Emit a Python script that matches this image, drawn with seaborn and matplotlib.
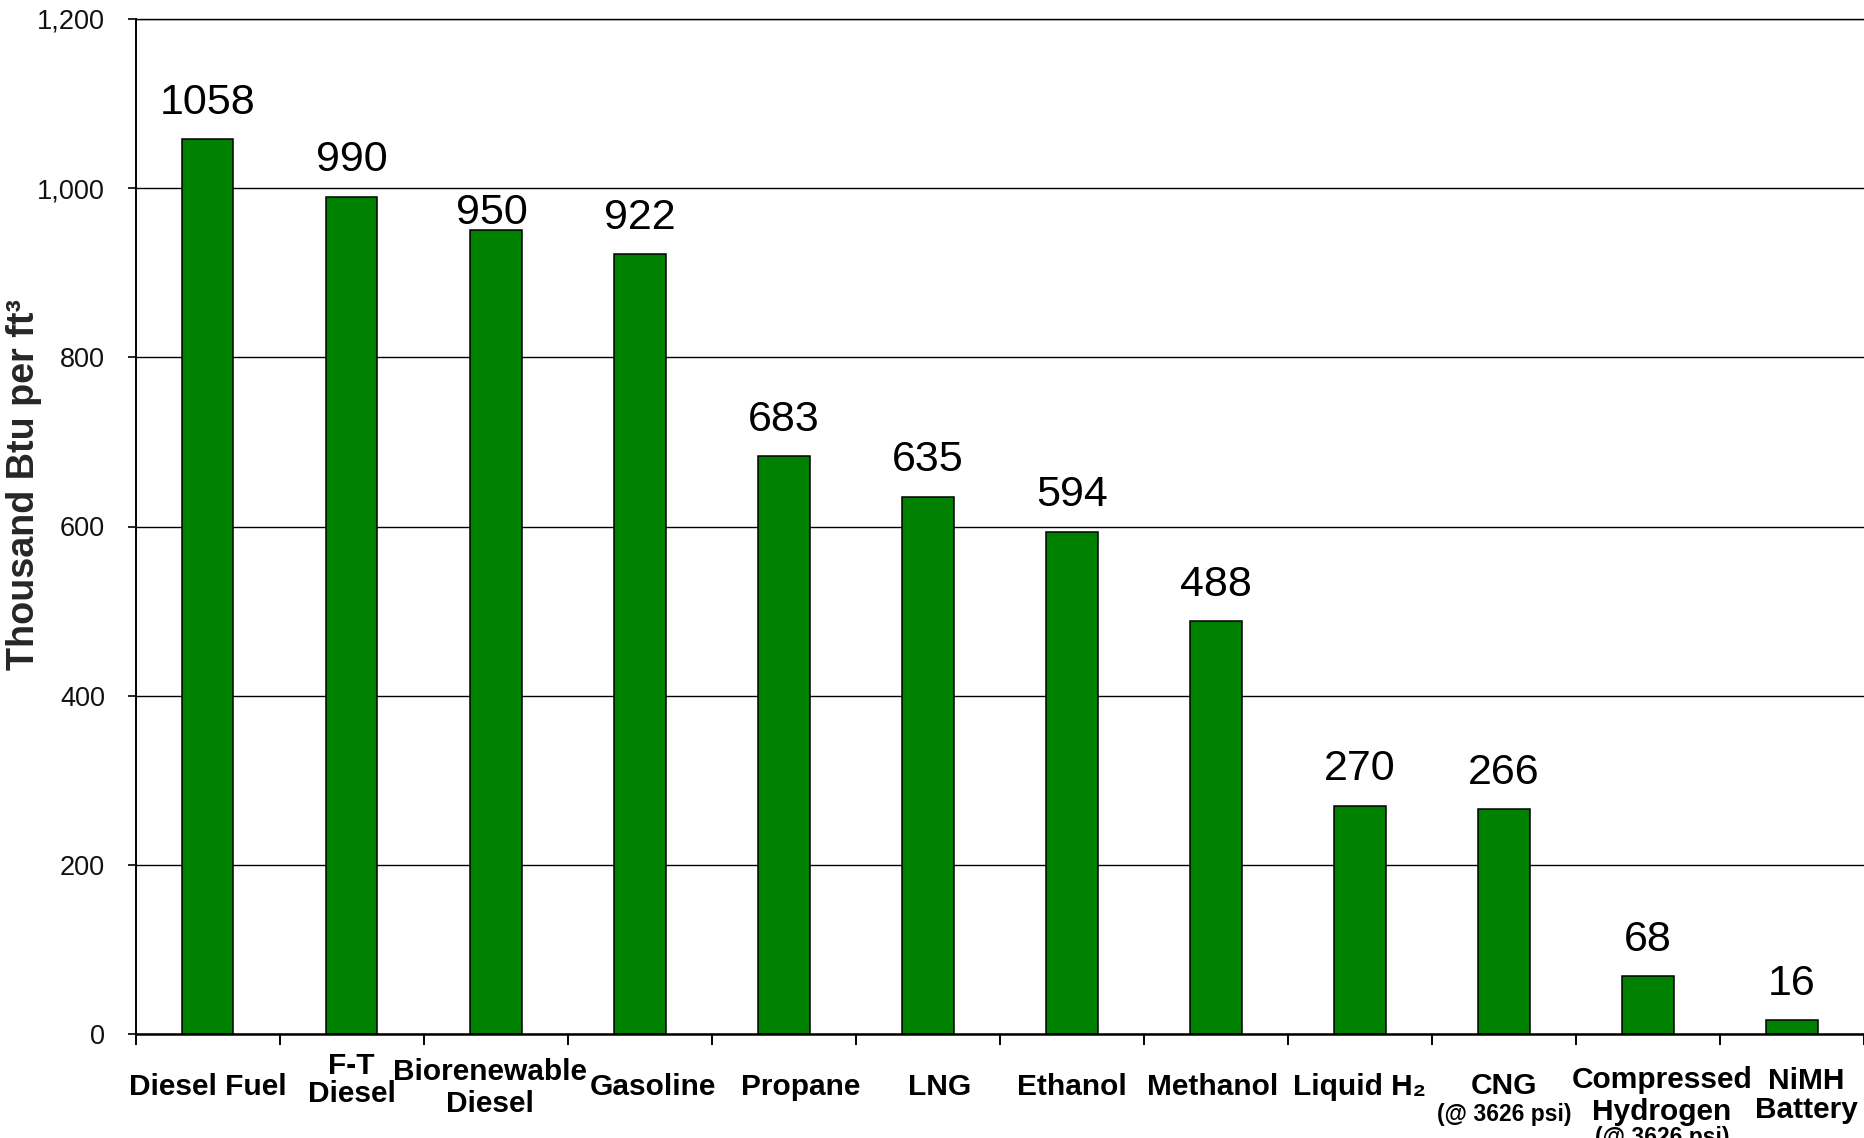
import matplotlib
matplotlib.use("Agg")
import matplotlib.pyplot as plt
import seaborn as sns
import pandas as pd
import numpy as np

# ---------------- data ----------------
categories = ["Diesel Fuel", "F-T Diesel", "Biorenewable Diesel", "Gasoline", "Propane",
              "LNG", "Ethanol", "Methanol", "Liquid H2", "CNG",
              "Compressed Hydrogen", "NiMH Battery"]
values = [1058, 990, 950, 922, 683, 635, 594, 488, 270, 266, 68, 16]
label_lines = [["Diesel Fuel"], ["F-T", "Diesel"], ["Biorenewable", "Diesel"], ["Gasoline"],
               ["Propane"], ["LNG"], ["Ethanol"], ["Methanol"], ["Liquid H\u2082"],
               ["CNG", "(@ 3626 psi)"], ["Compressed", "Hydrogen", "(@ 3626 psi)"],
               ["NiMH", "Battery"]]
y_ticks = [0, 200, 400, 600, 800, 1000, 1200]
y_tick_labels = ["0", "200", "400", "600", "800", "1,000", "1,200"]
y_title = "Thousand Btu per ft\u00b3"

# ---------------- style / layout ----------------
sns.set_style("white")
plt.rcParams["font.family"] = ["Liberation Sans", "DejaVu Sans"]

W, H = 1864, 1138
PT = 0.72  # points per pixel at dpi 100
fig = plt.figure(figsize=(W / 100, H / 100), dpi=100)
ax_left, ax_top, ax_bottom = 135.5, 19, 1034
ax = fig.add_axes([ax_left / W, 1 - ax_bottom / H, 1 - ax_left / W, (ax_bottom - ax_top) / H])

df = pd.DataFrame({"cat": categories, "val": values})
sns.barplot(data=df, x="cat", y="val", color="#008000", saturation=1, width=0.36,
            edgecolor="black", linewidth=1.1, ax=ax)

ax.set_xlim(-0.5, len(categories) - 0.5)
ax.set_ylim(0, 1200)
ax.set_yticks(y_ticks)
ax.set_yticklabels(y_tick_labels)
ax.yaxis.grid(True, color="black", linewidth=1.0)
ax.xaxis.grid(False)
ax.set_axisbelow(True)

ax.spines["right"].set_visible(False)
ax.spines["top"].set_color("black")
ax.spines["top"].set_linewidth(1.0)
ax.spines["left"].set_color("black")
ax.spines["left"].set_linewidth(1.4)
ax.spines["bottom"].set_color("black")
ax.spines["bottom"].set_linewidth(1.8)

ax.tick_params(axis="y", direction="out", length=6, width=1.2, color="black",
               pad=16, labelsize=19.5, labelcolor="#111111", left=True)
ax.set_xticks(np.arange(-0.5, len(categories), 1.0))
ax.set_xticklabels([])
ax.tick_params(axis="x", direction="out", length=8, width=1.4, color="black", bottom=True)
ax.set_xlabel("")

ax.set_ylabel(y_title, fontsize=27.2, fontweight="bold", va="center")
ax.yaxis.set_label_coords((24 - ax_left) / (W - ax_left), (ax_bottom - 485) / (ax_bottom - ax_top))

# value labels (offsets in px above bar top)
val_off = {2: (-3.5, 17)}
for i, v in enumerate(values):
    dx, dy = val_off.get(i, (0, 36.5))
    ax.annotate(str(v), xy=(i, v), xytext=(dx * PT, dy * PT), textcoords="offset points",
                ha="center", va="center", fontsize=31, color="black")

# category labels: per-category x shift and baselines (px below axis line)
lab_layout = {
    0: (0, [61]), 1: (0, [40, 68]), 2: (-6, [46, 78]), 3: (13, [61]), 4: (17, [61]),
    5: (12, [61]), 6: (0, [61]), 7: (-3, [61]), 8: (0, [61]), 9: (0, [60, 87]),
    10: (14, [54, 86, 110]), 11: (14, [55, 84]),
}
for i, lines in enumerate(label_lines):
    dx, bases = lab_layout[i]
    for line, b in zip(lines, bases):
        small = line.startswith("(@")
        ax.annotate(line, xy=(i, 0), xycoords=ax.get_xaxis_transform(),
                    xytext=(dx * PT, -b * PT), textcoords="offset points",
                    ha="center", va="baseline", fontsize=16.5 if small else 21.5,
                    fontweight="bold", color="black", annotation_clip=False)

fig.savefig("out.png", dpi=100)
